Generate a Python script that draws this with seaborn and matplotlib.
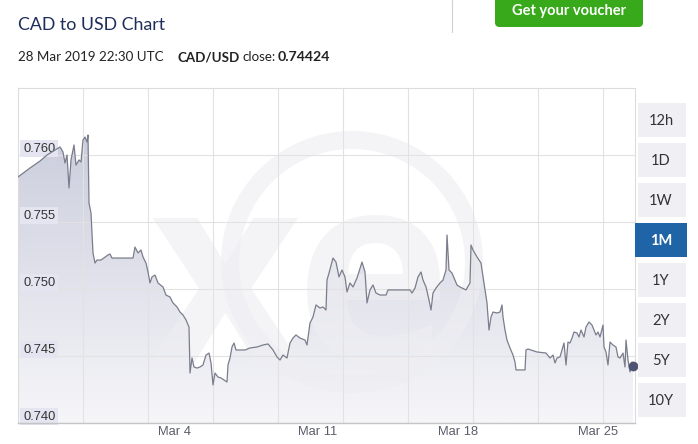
import numpy as np
import pandas as pd
import seaborn as sns
import matplotlib.pyplot as plt
import matplotlib.dates as mdates
import matplotlib.transforms as mtransforms
from matplotlib.colors import LinearSegmentedColormap
from matplotlib.patches import Rectangle, FancyBboxPatch, Circle

# days after 1 Mar 2019 (negative values are late February)
days = [-3.75, -3.15, -2.65, -2.30, -1.65, -1.50, -1.40, -1.30, -1.20, -1.10,
        -0.95, -0.85, -0.70, -0.60, -0.50, -0.40, -0.30, -0.25, -0.20, -0.10,
        0.00, 0.10, 0.20, 0.40, 0.75, 0.85, 0.95, 2.00, 2.10, 2.25,
        2.40, 2.50, 2.65, 2.75, 2.85, 2.95, 3.10, 3.25, 3.50, 3.65,
        3.85, 4.00, 4.20, 4.35, 4.50, 4.65, 4.80, 4.85, 4.95, 5.05,
        5.20, 5.35, 5.50, 5.65, 5.80, 5.90, 6.00, 6.10, 6.25, 6.40,
        6.55, 6.70, 6.75, 6.85, 6.95, 7.05, 7.15, 7.60, 7.85, 8.20,
        8.50, 8.75, 9.00, 9.20, 9.35, 9.50, 9.70, 9.85, 10.00, 10.15,
        10.35, 10.60, 10.70, 10.85, 11.00, 11.15, 11.35, 11.50, 11.65, 11.70,
        11.80, 12.00, 12.15, 12.30, 12.45, 12.60, 12.70, 12.85, 13.00, 13.20,
        13.45, 13.60, 13.70, 13.85, 14.00, 14.15, 14.35, 14.65, 14.75, 15.85,
        15.95, 16.10, 16.25, 16.40, 16.50, 16.65, 16.80, 16.90, 17.00, 17.15,
        17.35, 17.50, 17.65, 17.70, 17.80, 17.95, 18.20, 18.35, 18.65, 18.85,
        18.90, 19.00, 19.20, 19.40, 19.45, 19.60, 19.70, 19.80, 19.90, 20.00,
        20.20, 20.35, 20.45, 20.50, 20.60, 20.70, 20.85, 21.00, 21.10, 21.15,
        21.60, 21.65, 21.75, 22.20, 22.65, 22.85, 23.00, 23.10, 23.20, 23.35,
        23.45, 23.55, 23.65, 23.75, 23.85, 23.95, 24.05, 24.20, 24.30, 24.40,
        24.55, 24.65, 24.80, 24.95, 25.05, 25.15, 25.25, 25.35, 25.50, 25.55,
        25.65, 25.75, 25.85, 26.00, 26.15, 26.25, 26.35, 26.50, 26.60, 26.65,
        26.75, 26.85, 26.95, 27.00]

rate = [0.75836, 0.75903, 0.75955, 0.76000, 0.76060, 0.76022, 0.75940, 0.76000, 0.75754, 0.75963,
        0.76075, 0.75925, 0.75963, 0.75948, 0.76112, 0.76134, 0.76097, 0.76149, 0.75642, 0.75567,
        0.75269, 0.75194, 0.75216, 0.75216, 0.75254, 0.75261, 0.75231, 0.75231, 0.75313, 0.75269,
        0.75291, 0.75239, 0.75194, 0.75127, 0.75045, 0.75090, 0.75104, 0.75045, 0.75015, 0.74955,
        0.74940, 0.74896, 0.74866, 0.74828, 0.74806, 0.74769, 0.74716, 0.74373, 0.74485, 0.74418,
        0.74410, 0.74418, 0.74433, 0.74507, 0.74522, 0.74448, 0.74284, 0.74373, 0.74343, 0.74336,
        0.74321, 0.74306, 0.74433, 0.74485, 0.74567, 0.74597, 0.74545, 0.74545, 0.74560, 0.74567,
        0.74582, 0.74590, 0.74545, 0.74493, 0.74470, 0.74507, 0.74485, 0.74597, 0.74634, 0.74657,
        0.74634, 0.74619, 0.74582, 0.74746, 0.74791, 0.74881, 0.74858, 0.74866, 0.74843, 0.75067,
        0.75119, 0.75231, 0.75201, 0.75090, 0.75142, 0.75090, 0.74978, 0.75045, 0.75015, 0.75082,
        0.75201, 0.75127, 0.74896, 0.74993, 0.75030, 0.74970, 0.74955, 0.74955, 0.74993, 0.74993,
        0.74970, 0.75007, 0.75090, 0.75127, 0.75067, 0.75015, 0.74918, 0.74843, 0.74970, 0.75007,
        0.75045, 0.75067, 0.75142, 0.75403, 0.75142, 0.75119, 0.75030, 0.75015, 0.74993, 0.75045,
        0.75328, 0.75291, 0.75239, 0.75194, 0.75142, 0.74993, 0.74896, 0.74694, 0.74791, 0.74828,
        0.74821, 0.74828, 0.74881, 0.74791, 0.74694, 0.74619, 0.74560, 0.74507, 0.74455, 0.74396,
        0.74396, 0.74545, 0.74552, 0.74530, 0.74522, 0.74485, 0.74507, 0.74448, 0.74485, 0.74493,
        0.74545, 0.74597, 0.74433, 0.74604, 0.74597, 0.74634, 0.74679, 0.74672, 0.74642, 0.74694,
        0.74642, 0.74716, 0.74754, 0.74731, 0.74694, 0.74657, 0.74679, 0.74642, 0.74731, 0.74567,
        0.74530, 0.74433, 0.74604, 0.74582, 0.74567, 0.74493, 0.74485, 0.74522, 0.74418, 0.74619,
        0.74470, 0.74381, 0.74455, 0.74424]

y_ticks = [0.740, 0.745, 0.750, 0.755, 0.760]
y_top = 0.765
x_range = (-3.75, 27.1)
x_tick_days = [3, 10, 17, 24]
x_tick_labels = ["Mar 4", "Mar 11", "Mar 18", "Mar 25"]
range_buttons = ["12h", "1D", "1W", "1M", "1Y", "2Y", "5Y", "10Y"]
active_button = "1M"

W, H = 698, 444
BASE = pd.Timestamp("2019-03-01")
AXIS_FONT = ["Liberation Sans", "DejaVu Sans"]
UI_FONT = ["Lato", "DejaVu Sans"]


def to_time(d):
    return BASE + pd.to_timedelta(np.asarray(d, dtype=float), unit="D")


def px(x, y):
    # pixel position (from top-left) -> inches for fig.dpi_scale_trans
    return x / 100, (H - y) / 100


def main():
    sns.set_style("white")
    plt.rcParams["font.family"] = UI_FONT

    df = pd.DataFrame({"time": to_time(days), "rate": rate})

    fig = plt.figure(figsize=(W / 100, H / 100), dpi=100)
    inch = fig.dpi_scale_trans
    ax = fig.add_axes([18 / W, 1 - 423 / H, 617 / W, 335 / H])

    # gradient area under the line
    poly = ax.fill_between(df["time"], df["rate"], y_ticks[0],
                           facecolor="none", edgecolor="none")
    x0, x1 = mdates.date2num(to_time(x_range))
    cmap = LinearSegmentedColormap.from_list("area", ["#f6f6f9", "#c4c7d8"])
    grad = np.linspace(0, 1, 256).reshape(-1, 1)
    img = ax.imshow(grad, cmap=cmap, aspect="auto", origin="lower",
                    extent=[x0, x1, y_ticks[0], y_top], zorder=1)
    img.set_clip_path(poly.get_paths()[0], transform=ax.transData)

    # faint xe watermark
    ax.add_patch(Circle(px(352, 262), 1.22, transform=inch, fill=False,
                        lw=13, ec="#eeeef2", alpha=0.6, zorder=1.2))
    ax.text(*px(300, 362), "xe", transform=inch, fontsize=190,
            fontweight="bold", color="#eeeef2", alpha=0.6,
            ha="center", va="baseline", zorder=1.2, family=["Open Sans"])

    sns.lineplot(data=df, x="time", y="rate", ax=ax, color="#7a7d8c",
                 linewidth=0.9, zorder=4)
    ax.plot(df["time"].iloc[-1], df["rate"].iloc[-1], "o", color="#4f5374",
            ms=6, zorder=5, clip_on=False)

    ax.set_xlim(to_time(x_range))
    ax.set_ylim(y_ticks[0], y_top)
    ax.set_xlabel("")
    ax.set_ylabel("")

    # grid
    ax.set_axisbelow("line")
    ax.set_yticks(y_ticks)
    ax.yaxis.grid(True, color="#e2e2e2", lw=0.8)
    ax.set_xticks(to_time(np.arange(-0.5, 27, 3.25)), minor=True)
    ax.xaxis.grid(True, which="minor", color="#e2e2e2", lw=0.8)
    ax.xaxis.grid(False, which="major")
    ax.tick_params(axis="x", which="minor", length=0)

    for side in ["top", "left", "right"]:
        ax.spines[side].set_color("#dcdcdc")
        ax.spines[side].set_linewidth(0.8)
    ax.spines["bottom"].set_color("#c4c4c4")
    ax.spines["bottom"].set_linewidth(1.0)

    # x labels: left aligned next to long ticks
    ax.set_xticks(to_time(x_tick_days))
    ax.set_xticklabels(x_tick_labels)
    ax.tick_params(axis="x", which="major", length=14.5, width=0.8,
                   color="#dcdcdc", direction="out", pad=-12.5,
                   labelsize=9.3, labelcolor="#5b5d6b")
    shift_x = mtransforms.ScaledTranslation(0.05, 0, inch)
    for lab in ax.get_xticklabels():
        lab.set_horizontalalignment("left")
        lab.set_family(AXIS_FONT)
        lab.set_transform(lab.get_transform() + shift_x)

    # y labels: inside the plot with a tinted box
    ax.set_yticklabels([f"{v:.3f}" for v in y_ticks])
    ax.tick_params(axis="y", length=0, pad=0, labelsize=9.3,
                   labelcolor="#333333")
    shift_y = mtransforms.ScaledTranslation(0.05, 0.035, inch)
    for lab in ax.get_yticklabels():
        lab.set_horizontalalignment("left")
        lab.set_verticalalignment("baseline")
        lab.set_family(AXIS_FONT)
        lab.set_transform(lab.get_transform() + shift_y)
        lab.set_bbox(dict(boxstyle="square,pad=0.22", fc="#e4e5f0", ec="none"))

    # header
    fig.text(*px(18, 25), "CAD to USD Chart", transform=inch, fontsize=12.8,
             color="#1e2d5a", va="center")

    # subtitle pieces placed one after another
    renderer = fig.canvas.get_renderer()
    pieces = [("28 Mar 2019 22:30 UTC", "normal", 14, 9.6),
              ("CAD/USD", "bold", 3, 9.6),
              ("close:", "normal", 1, 9.6),
              ("0.74424", "bold", 0, 10.2)]
    cursor = 18
    for text, weight, gap, size in pieces:
        t = fig.text(*px(cursor, 57), text, transform=inch, fontsize=size,
                     fontweight=weight, color="#222222", va="center")
        cursor += t.get_window_extent(renderer).width + gap

    # voucher button and divider
    fig.add_artist(plt.Line2D([4.52, 4.52], [H / 100 - 0.32, H / 100],
                              transform=inch, color="#d0d0d0", lw=0.8))
    fig.add_artist(FancyBboxPatch(px(495, 27), 1.48, 0.4, transform=inch,
                                  boxstyle="round,pad=0,rounding_size=0.045",
                                  fc="#38a91a", ec="none"))
    fig.text(*px(569, 11), "Get your voucher", transform=inch, fontsize=10.5,
             fontweight="bold", color="white", ha="center", va="center")

    # range selector
    for i, name in enumerate(range_buttons):
        top = 103 + 40 * i
        active = name == active_button
        left, width = (635, 52) if active else (638, 48)
        fig.add_artist(Rectangle(px(left, top + 34), width / 100, 0.34,
                                 transform=inch, ec="none",
                                 fc="#1f64a6" if active else "#f0f0f4"))
        fig.text(*px(661, top + 18), name, transform=inch, fontsize=10.5,
                 ha="center", va="center",
                 color="white" if active else "#333333",
                 fontweight="bold" if active else "normal")

    fig.savefig("out.png", dpi=100)


if __name__ == "__main__":
    main()
